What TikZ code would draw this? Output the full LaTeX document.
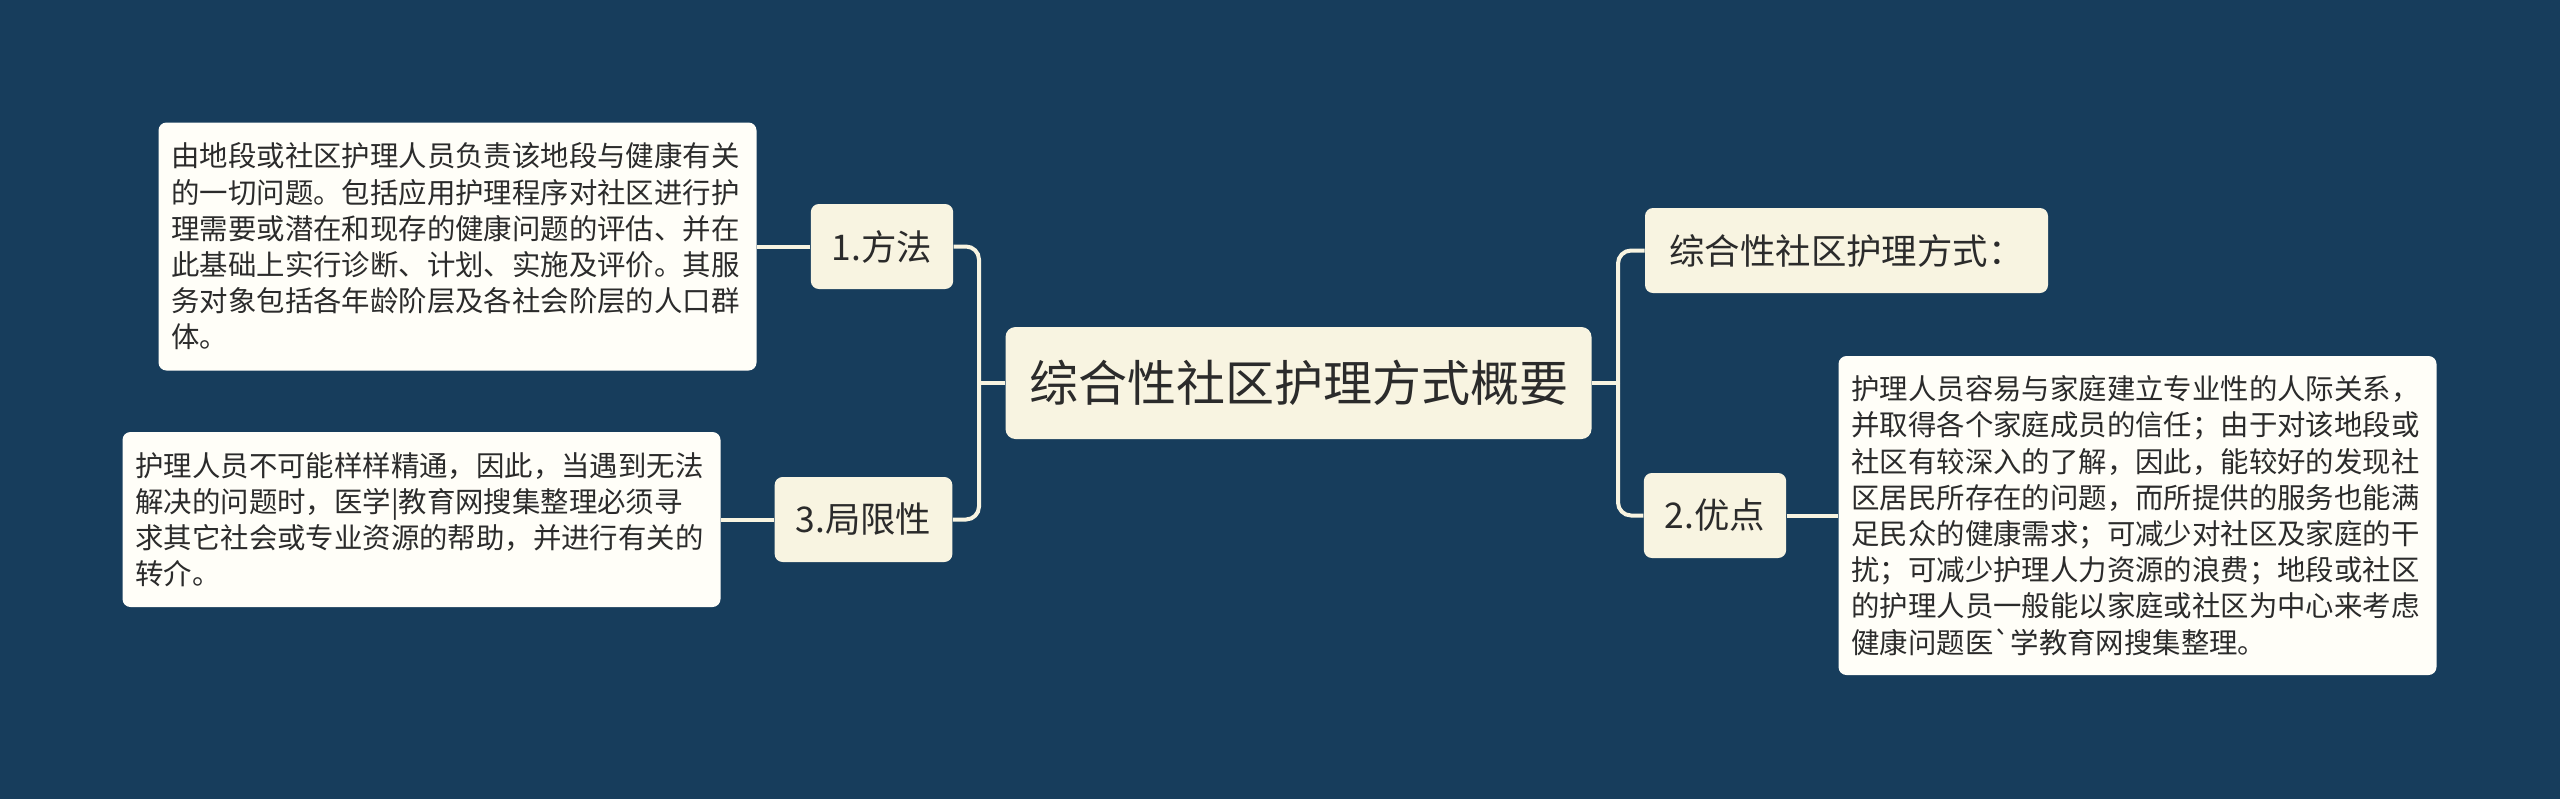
\documentclass[tikz,border=0pt]{standalone}
\usepackage{fontspec}
\newfontfamily\cjk{Noto Sans CJK SC}
\definecolor{bgblue}{RGB}{23,61,92}
\definecolor{cream}{RGB}{248,244,225}
\definecolor{paper}{RGB}{255,254,248}
\definecolor{ink}{RGB}{43,43,43}
\tikzset{
 rootbox/.style={fill=cream,rounded corners=5pt,font=\cjk\fontsize{24.5}{30}\selectfont,text=ink,minimum width=293pt,minimum height=56pt,inner sep=0pt},
 topicbox/.style={fill=cream,rounded corners=4pt,font=\cjk\fontsize{17.7}{22}\selectfont,text=ink,minimum height=42.5pt,inner xsep=10.5pt,inner ysep=0pt},
 notebox/.style={fill=paper,rounded corners=4pt,font=\cjk\fontsize{14.2}{18.1}\selectfont,text=ink,text width=286pt,align=left,inner xsep=6.5pt,inner ysep=0pt},
 link/.style={draw=cream,line width=2pt,rounded corners=6.5pt}
}
\begin{document}
\begin{tikzpicture}[x=0.5pt,y=0.5pt]
\fill[bgblue] (0,0) rectangle (2560,-799);
\useasboundingbox (0,0) rectangle (2560,-799);

\node (root) at (1298.5,-383) [rootbox]{综合性社区护理方式概要};

\node (fangfa) at (882,-246.5) [topicbox,minimum width=70pt]{1.方法};
\node (juxian) at (863.5,-519.5) [topicbox,minimum width=88.5pt]{3.局限性};
\node (zonghe) at (1846.5,-250.5) [topicbox,minimum width=201.5pt]{综合性社区护理方式：};
\node (youdian) at (1715,-515.5) [topicbox,minimum width=70pt]{2.优点};

\node (fangfaT) at (457.5,-246.5) [notebox,minimum height=124pt]{由地段或社区护理人员负责该地段与健康有关\\的一切问题。包括应用护理程序对社区进行护\\理需要或潜在和现存的健康问题的评估、并在\\此基础上实行诊断、计划、实施及评价。其服\\务对象包括各年龄阶层及各社会阶层的人口群\\体。};
\node (juxianT) at (421.5,-519.5) [notebox,minimum height=87.5pt]{护理人员不可能样样精通，因此，当遇到无法\\解决的问题时，医学|教育网搜集整理必须寻\\求其它社会或专业资源的帮助，并进行有关的\\转介。};
\node (youdianT) at (2137.5,-515.5) [notebox,minimum height=159.5pt]{护理人员容易与家庭建立专业性的人际关系，\\并取得各个家庭成员的信任；由于对该地段或\\社区有较深入的了解，因此，能较好的发现社\\区居民所存在的问题，而所提供的服务也能满\\足民众的健康需求；可减少对社区及家庭的干\\扰；可减少护理人力资源的浪费；地段或社区\\的护理人员一般能以家庭或社区为中心来考虑\\健康问题医`学教育网搜集整理。};

\coordinate (lj) at (979,-383);
\coordinate (rj) at (1618,-383);

\draw[link] (root.west)--(lj);
\draw[link] (lj)|-(fangfa.east);
\draw[link] (lj)|-(juxian.east);
\draw[link] (root.east)--(rj);
\draw[link] (rj)|-(zonghe.west);
\draw[link] (rj)|-(youdian.west);

\draw[link] (fangfa.west)--(fangfaT.east);
\draw[link] (juxian.west)--(juxianT.east);
\draw[link] (youdian.east)--(youdianT.west);
\end{tikzpicture}
\end{document}
